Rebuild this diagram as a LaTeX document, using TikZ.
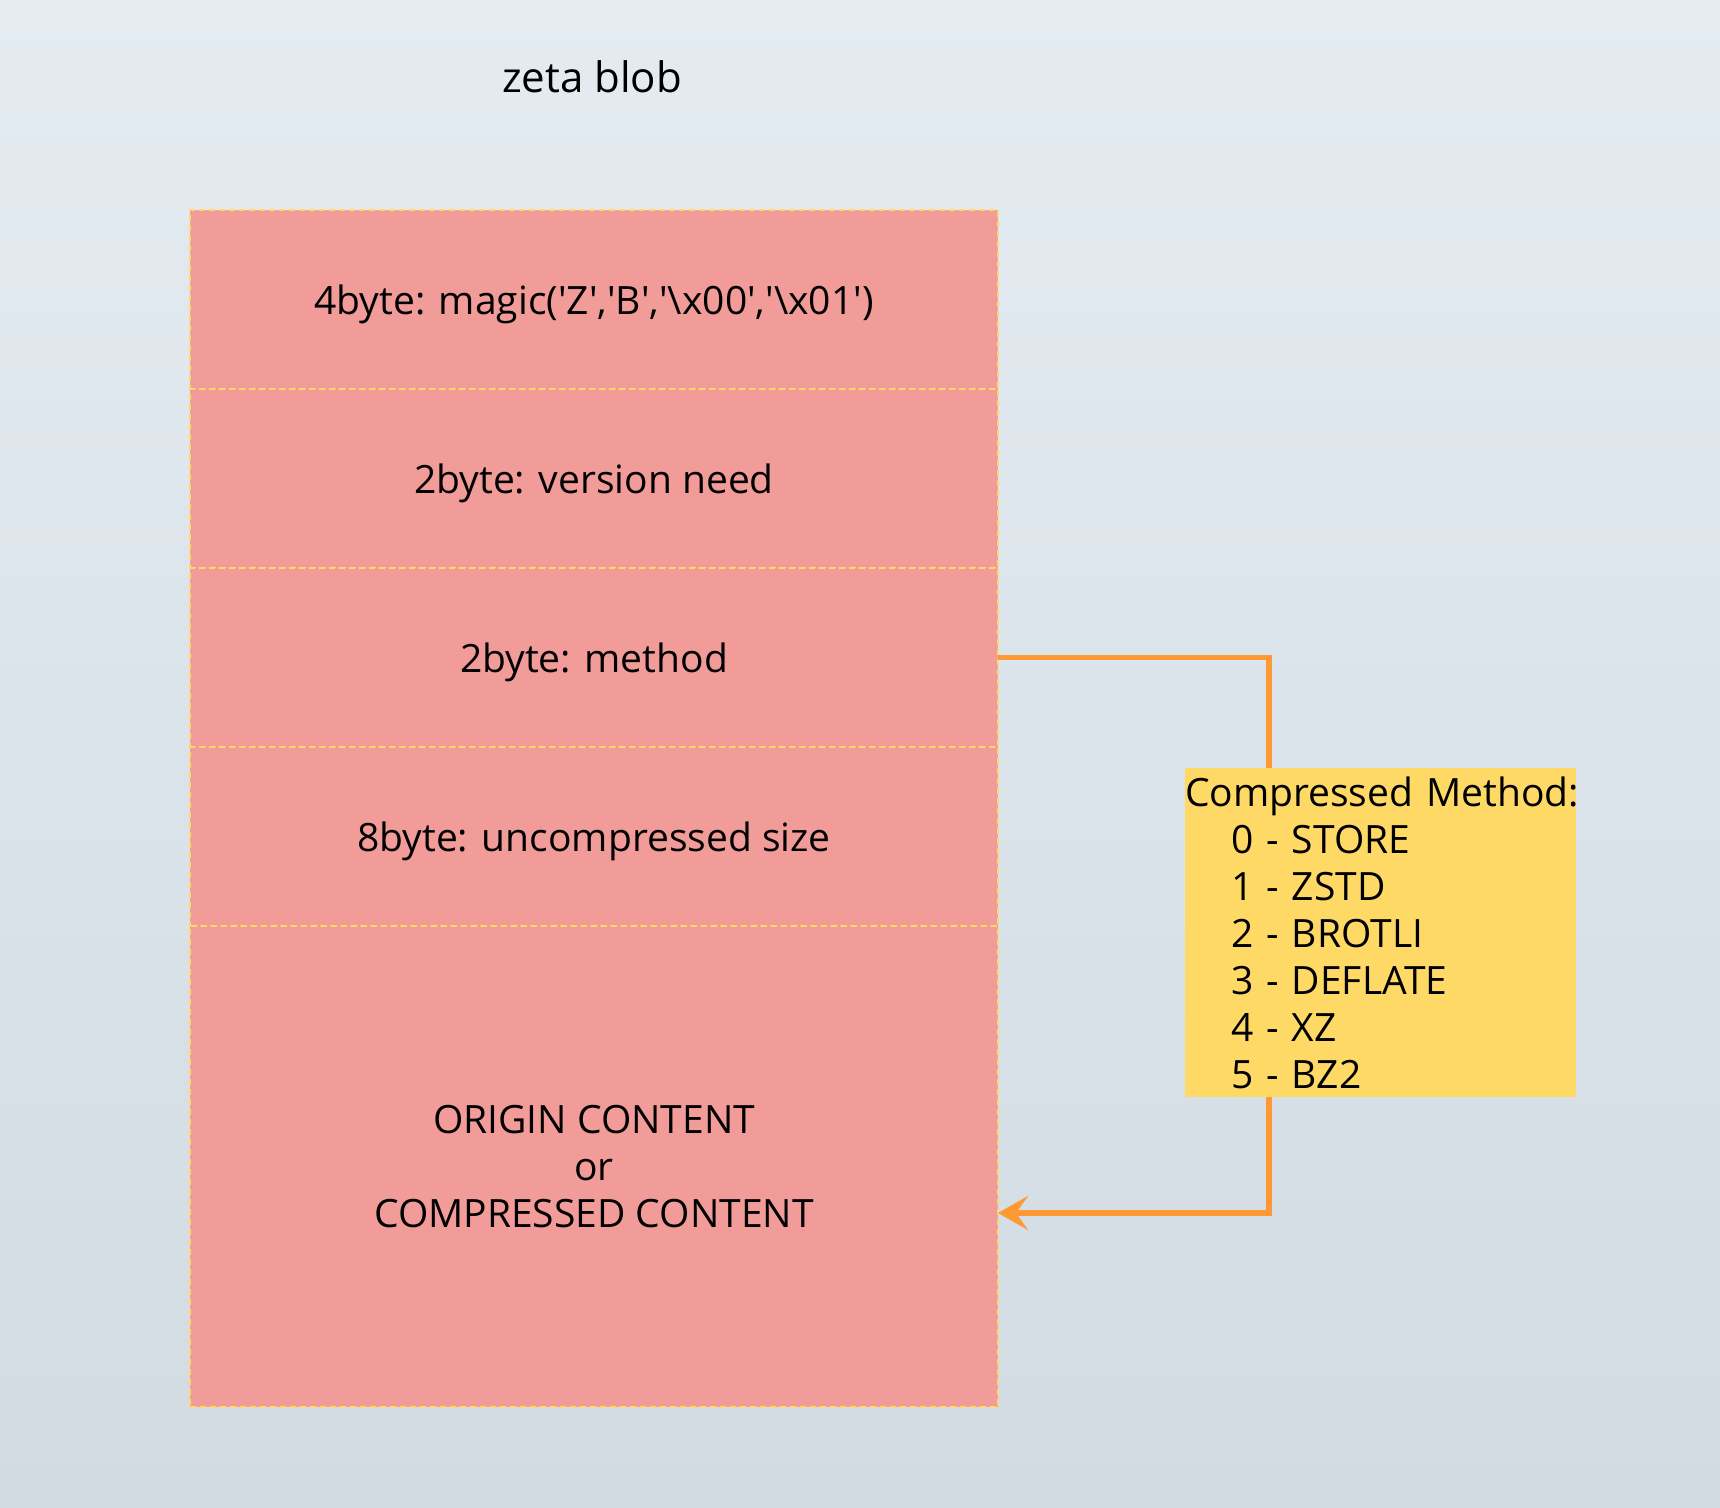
\documentclass[tikz,border=0pt]{standalone}
\usepackage{fontspec}
\setmainfont{Open Sans}
\usetikzlibrary{positioning,arrows.meta}
\definecolor{bgtop}{RGB}{228,236,242}
\definecolor{bgbottom}{RGB}{210,219,226}
\definecolor{fieldred}{HTML}{F19C99}
\definecolor{notegold}{HTML}{FFD966}
\definecolor{linkorange}{HTML}{FF9933}
\newcommand{\sq}{\textquotesingle}
\newcommand{\bs}{\textbackslash}
\tikzset{
  label font/.style={font=\fontsize{19.5}{23.5}\selectfont},
  field/.style={draw=notegold, dash pattern=on 3pt off 2pt, line width=0.6pt,
    fill=fieldred, minimum width=404pt, minimum height=89.5pt, text depth=0pt,
    inner sep=0pt, outer sep=0pt, align=center, label font},
  note/.style={fill=notegold, text width=195.5pt, minimum height=164.5pt,
    inner sep=0pt, outer sep=0pt, align=left, label font},
  link/.style={draw=linkorange, line width=2.6pt},
}
\begin{document}
\begin{tikzpicture}[x=0.5pt,y=-0.5pt]
\shade [top color=bgtop,bottom color=bgbottom] (0,0) rectangle (1720,1508);
\useasboundingbox (0,0) rectangle (1720,1508);
\node [font=\fontsize{21}{25}\selectfont] (title) at (592,77) {zeta blob};
% blob fields, top to bottom
\node [field,anchor=north] (magic) at (594,210)
	{4byte: magic(\sq Z\sq,\sq B\sq,\sq\bs x00\sq,\sq\bs x01\sq)};
\node [field,below=0pt of magic] (version) {2byte: version need};
\node [field,below=0pt of version] (method) {2byte: method};
\node [field,below=0pt of method] (size) {8byte: uncompressed size};
\node [field,below=0pt of size,minimum height=240.5pt] (content)
	{ORIGIN CONTENT\\or\\COMPRESSED CONTENT};
% method codes
\node [note,anchor=north west] (codes) at (1185,768)
	{Compressed~Method:\\
	\hspace*{23pt}0 - STORE\\
	\hspace*{23pt}1 - ZSTD\\
	\hspace*{23pt}2 - BROTLI\\
	\hspace*{23pt}3 - DEFLATE\\
	\hspace*{23pt}4 - XZ\\
	\hspace*{23pt}5 - BZ2};
\coordinate (bend) at ([xshift=135.5pt]method.east);
\coordinate (landing) at (998,1213);
\draw [link] (method.east) -- (bend) -- (bend |- codes.north);
\draw [link,-{Stealth[length=15pt,width=17pt,inset=6pt]}]
	(bend |- codes.south) |- (landing);
\end{tikzpicture}
\end{document}
